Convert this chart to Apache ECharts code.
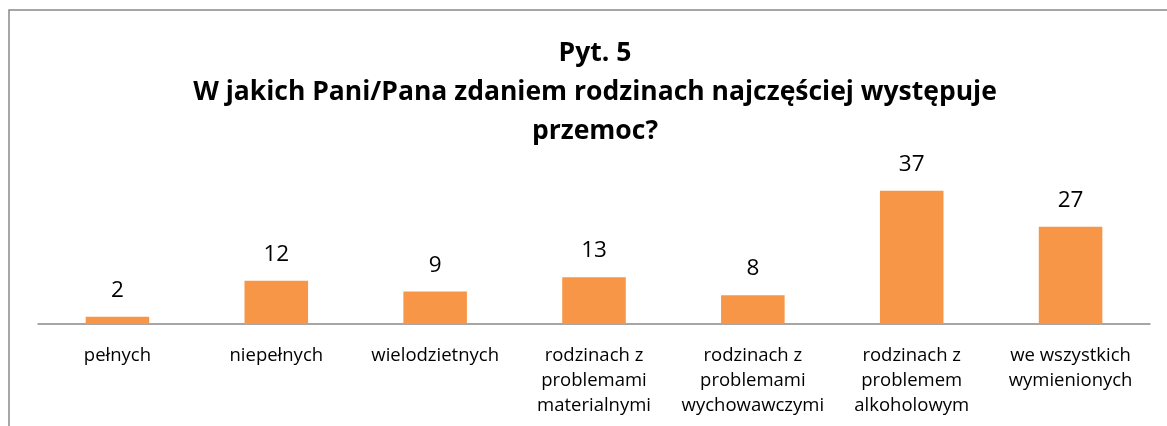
<!DOCTYPE html>
<html>
<head>
<meta charset="utf-8">
<script src="https://cdn.jsdelivr.net/npm/echarts@6/dist/echarts.min.js"></script>
<style>
html,body{margin:0;padding:0;background:#fff;}
#chart{width:1167px;height:426px;}
</style>
</head>
<body>
<div id="chart"></div>
<script>
const categories = ["pełnych", "niepełnych", "wielodzietnych", "rodzinach z\nproblemami\nmaterialnymi", "rodzinach z\nproblemami\nwychowawczymi", "rodzinach z\nproblemem\nalkoholowym", "we wszystkich\nwymienionych"];
const values = [2, 12, 9, 13, 8, 37, 27];
const titleText = "Pyt. 5\nW jakich Pani/Pana zdaniem rodzinach najczęściej występuje\nprzemoc?";

const chart = echarts.init(document.getElementById('chart'), null, {renderer: 'canvas'});
chart.setOption({
  animation: false,
  backgroundColor: '#ffffff',
  graphic: [{
    type: 'rect',
    shape: {x: 9, y: 10, width: 1300, height: 600},
    style: {fill: 'none', stroke: '#898989', lineWidth: 1.5},
    silent: true
  }],
  title: {
    text: titleText,
    left: 590,
    textAlign: 'center',
    top: 29,
    textStyle: {
      fontFamily: 'Open Sans',
      fontWeight: 'bold',
      fontSize: 26.5,
      lineHeight: 39,
      color: '#000000'
    }
  },
  grid: {left: 38, right: 17, top: 180, bottom: 102, containLabel: false},
  xAxis: {
    type: 'category',
    data: categories,
    axisLine: {show: true, lineStyle: {color: '#898989', width: 1.5}},
    axisTick: {show: false},
    axisLabel: {
      interval: 0,
      margin: 19,
      fontFamily: 'Open Sans',
      fontSize: 18.5,
      lineHeight: 25,
      color: '#000000'
    }
  },
  yAxis: {
    type: 'value',
    min: 0,
    max: 40,
    show: false,
    splitLine: {show: false}
  },
  series: [{
    type: 'bar',
    data: values,
    barWidth: '40%',
    itemStyle: {color: '#F79646'},
    label: {
      show: true,
      position: 'top',
      distance: 15,
      fontFamily: 'Open Sans',
      fontSize: 22.5,
      color: '#000000'
    }
  }]
});
</script>
</body>
</html>
